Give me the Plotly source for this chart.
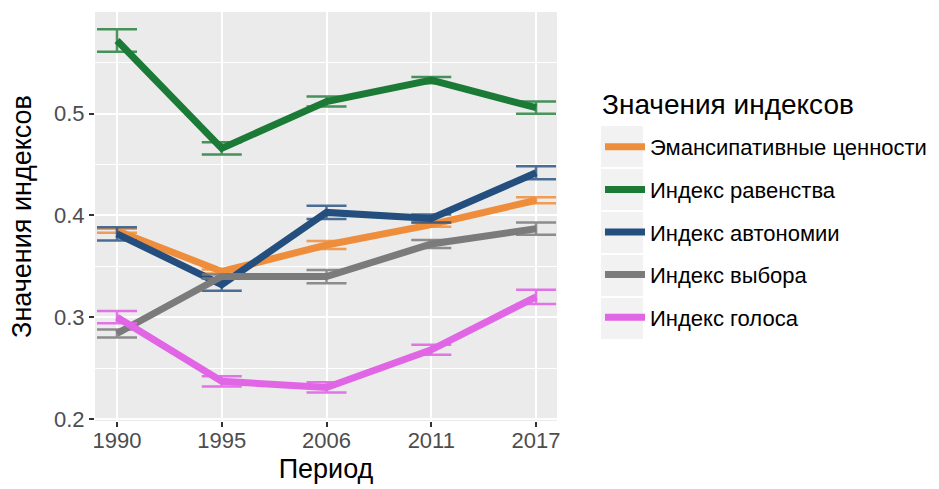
import plotly.graph_objects as go

periods = ["1990", "1995", "2006", "2011", "2017"]

series_names = ["Эмансипативные ценности", "Индекс равенства", "Индекс автономии",
                "Индекс выбора", "Индекс голоса"]
series_colors = ["#EE8E3C", "#1B7A35", "#234E7D", "#7B7B7B", "#E066E5"]
errbar_colors = ["rgba(238,142,60,0.85)", "rgba(27,122,53,0.8)", "rgba(35,78,125,0.8)",
                 "rgba(123,123,123,0.85)", "rgba(224,102,229,0.9)"]

emancip_vals = [0.385, 0.345, 0.371, 0.391, 0.415]
emancip_err = [0.002, 0.002, 0.004, 0.002, 0.003]
equality_vals = [0.572, 0.466, 0.512, 0.533, 0.506]
equality_err = [0.011, 0.006, 0.005, 0.003, 0.006]
autonomy_vals = [0.382, 0.332, 0.403, 0.397, 0.442]
autonomy_err = [0.0065, 0.006, 0.0065, 0.004, 0.0065]
choice_vals = [0.284, 0.340, 0.340, 0.372, 0.387]
choice_err = [0.004, 0.002, 0.0065, 0.004, 0.006]
voice_vals = [0.300, 0.237, 0.231, 0.268, 0.320]
voice_err = [0.006, 0.005, 0.005, 0.005, 0.007]

values = [emancip_vals, equality_vals, autonomy_vals, choice_vals, voice_vals]
errors = [emancip_err, equality_err, autonomy_err, choice_err, voice_err]

FONT = "Liberation Sans"

fig = go.Figure()
for i, (name, col, ecol, v, e) in enumerate(zip(series_names, series_colors, errbar_colors,
                                                 values, errors)):
    fig.add_trace(go.Scatter(
        x=periods, y=v, name=name, mode="lines",
        line=dict(color=col, width=7),
        error_y=dict(type="data", array=e, visible=True, color=ecol,
                     thickness=2.5, width=20),
        legendgroup=f"g{i}",
    ))

W, H = 939, 489
L, R, T, B = 95, 557, 12, 421


def px_x(p):
    return (p - L) / (R - L)


def px_y(p):
    return (B - p) / (B - T)


shapes = []
key_top = 125
key_h = 43
for i in range(len(series_names)):
    shapes.append(dict(type="rect", xref="paper", yref="paper",
                       x0=px_x(601), x1=px_x(643),
                       y0=px_y(key_top + i * key_h + 1), y1=px_y(key_top + (i + 1) * key_h - 1),
                       fillcolor="#F2F2F2", line=dict(width=0), layer="below"))

fig.update_layout(
    width=W, height=H,
    margin=dict(l=L, r=W - R, t=T, b=H - B),
    paper_bgcolor="white",
    plot_bgcolor="#EBEBEB",
    font=dict(family=FONT, color="#000000"),
    showlegend=True,
    shapes=shapes,
    annotations=[dict(text="Значения индексов", xref="paper", yref="paper",
                      x=px_x(600), y=px_y(104), xanchor="left", yanchor="middle",
                      showarrow=False, font=dict(size=28, color="#000"))],
    legend=dict(
        font=dict(size=22, color="#000"),
        xref="container", yref="container",
        x=600 / W, xanchor="left",
        y=1 - 126 / H, yanchor="top",
        traceorder="grouped",
        tracegroupgap=11,
        itemwidth=40,
        bgcolor="rgba(0,0,0,0)",
    ),
    xaxis=dict(
        type="category",
        range=[-0.21, 4.2],
        automargin=False,
        showgrid=True, gridcolor="white", gridwidth=2,
        zeroline=False,
        ticks="outside", ticklen=5, tickwidth=1.5, tickcolor="#333333",
        ticklabelstandoff=-5,
        tickfont=dict(size=22, color="#4D4D4D"),
        title=dict(text="Период", font=dict(size=27, color="#000"), standoff=6),
        showline=False,
    ),
    yaxis=dict(
        range=[0.198, 0.600],
        automargin=False,
        tickvals=[0.2, 0.3, 0.4, 0.5],
        ticktext=["0.2", "0.3", "0.4", "0.5"],
        showgrid=True, gridcolor="white", gridwidth=2,
        minor=dict(tickvals=[0.25, 0.35, 0.45, 0.55], showgrid=True,
                   gridcolor="white", gridwidth=1, ticks=""),
        zeroline=False,
        ticks="outside", ticklen=5, tickwidth=1.5, tickcolor="#333333",
        tickfont=dict(size=22, color="#4D4D4D"),
        title=dict(text="Значения индексов", font=dict(size=27, color="#000"), standoff=14),
        showline=False,
    ),
)

fig.write_html("out.html", post_script="document.body.style.margin='0';",
               config={"displayModeBar": False})
